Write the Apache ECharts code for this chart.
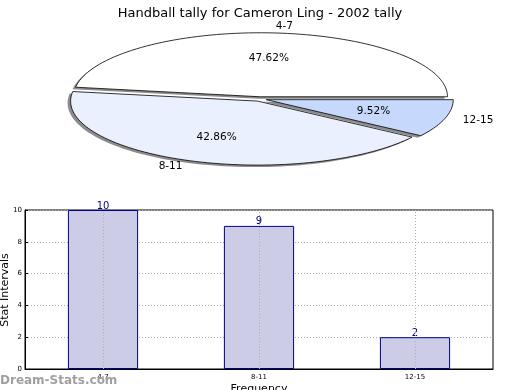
<!DOCTYPE html>
<html><head><meta charset="utf-8">
<script src="https://cdn.jsdelivr.net/npm/echarts@6/dist/echarts.min.js"></script>
<style>html,body{margin:0;padding:0;background:#fff}#c{width:520px;height:390px}</style>
</head><body><div id="c"></div>
<script>
const titleText = 'Handball tally for Cameron Ling - 2002 tally';
const categories = ['4-7', '8-11', '12-15'];
const values = [10, 9, 2];
const pieColors = ['#ffffff', '#eaf0fd', '#c6d9fd'];
const yTicks = [0, 2, 4, 6, 8, 10];
const yAxisName = 'Stat Intervals';
const xAxisName = 'Frequency';

const FONT = 'DejaVu Sans';
const total = values.reduce((a, b) => a + b, 0);
const PIE = { cx: 260, cy: 99, rx: 187, ry: 64, explode: 0.035, shadowDx: -3, shadowDy: 2 };

function slicePts(startDeg, endDeg, ox, oy) {
  const pts = [[PIE.cx + ox, PIE.cy + oy]];
  const n = Math.max(8, Math.ceil((endDeg - startDeg) / 2));
  for (let i = 0; i <= n; i++) {
    const a = (startDeg + (endDeg - startDeg) * i / n) * Math.PI / 180;
    pts.push([PIE.cx + ox + PIE.rx * Math.cos(a), PIE.cy + oy - PIE.ry * Math.sin(a)]);
  }
  return pts;
}

function renderSlice(params, api) {
  const idx = params.dataIndex;
  let before = 0;
  for (let i = 0; i < idx; i++) before += values[i];
  const v = api.value(1);
  const start = before / total * 360;
  const end = (before + v) / total * 360;
  const mid = (start + end) / 2 * Math.PI / 180;
  const cm = Math.cos(mid), sm = Math.sin(mid);
  const ox = PIE.explode * PIE.rx * cm, oy = -PIE.explode * PIE.ry * sm;
  const pts = slicePts(start, end, ox, oy);
  const shadowPts = pts.map(p => [p[0] + PIE.shadowDx, p[1] + PIE.shadowDy]);
  const lx = PIE.cx + ox + 1.1 * PIE.rx * cm, ly = PIE.cy + oy - 1.1 * PIE.ry * sm;
  const px = PIE.cx + ox + 0.6 * PIE.rx * cm, py = PIE.cy + oy - 0.6 * PIE.ry * sm;
  return {
    type: 'group',
    children: [
      { type: 'polygon', z2: 1, shape: { points: shadowPts }, style: { fill: '#8c8c8c', stroke: null } },
      { type: 'polygon', z2: 10, shape: { points: pts }, style: { fill: pieColors[idx], stroke: '#000', lineWidth: 0.8 } },
      { type: 'text', z2: 20, x: lx, y: ly, style: { text: categories[idx], fill: '#000', font: '10.5px "' + FONT + '"', align: cm < 0 ? 'right' : 'left', verticalAlign: 'middle' } },
      { type: 'text', z2: 20, x: px, y: py, style: { text: (v / total * 100).toFixed(2) + '%', fill: '#000', font: '10.5px "' + FONT + '"', align: 'center', verticalAlign: 'middle' } }
    ]
  };
}

const chart = echarts.init(document.getElementById('c'), null, { renderer: 'canvas' });
chart.setOption({
  animation: false,
  backgroundColor: '#fff',
  title: { text: titleText, left: 'center', top: 2, textStyle: { fontFamily: FONT, fontSize: 13, fontWeight: 'normal', color: '#000' } },
  graphic: [
    { type: 'text', left: 0, top: 375, z: 100, style: { text: 'Dream-Stats.com', fill: '#a0a0a0', font: 'bold 12px "' + FONT + '"' } },
    { type: 'text', x: 5, y: 290, rotation: Math.PI / 2, z: 100, style: { text: yAxisName, fill: '#000', font: '11px "' + FONT + '"', align: 'center', verticalAlign: 'middle' } }
  ],
  grid: { left: 25, right: 27, top: 210, bottom: 21, containLabel: false, outerBoundsMode: 'none', show: true, borderColor: '#000', borderWidth: 1, backgroundColor: 'transparent' },
  xAxis: {
    type: 'category', data: categories,
    name: xAxisName, nameLocation: 'middle', nameGap: 15,
    nameTextStyle: { fontFamily: FONT, fontSize: 11, color: '#000' },
    axisLine: { lineStyle: { color: '#000', width: 1 } },
    axisTick: { show: false },
    axisLabel: { fontFamily: FONT, fontSize: 7, color: '#000', margin: 5 },
    splitLine: { show: false }
  },
  yAxis: {
    type: 'value', min: 0, max: 10, interval: 2,
    axisLine: { show: true, lineStyle: { color: '#000', width: 1 } },
    axisTick: { show: true, inside: true, length: 3, lineStyle: { color: '#000' } },
    axisLabel: { fontFamily: FONT, fontSize: 7, color: '#000', margin: 3 },
    splitLine: { show: true, lineStyle: { color: '#b0b0b0', type: [1, 2], width: 1 } }
  },
  series: [
    {
      type: 'custom', coordinateSystem: 'none', renderItem: renderSlice,
      data: categories.map((c, i) => [i, values[i]]), silent: true
    },
    {
      type: 'bar', data: values, barWidth: '45%',
      itemStyle: { color: '#ccccE6', borderColor: '#00008b', borderWidth: 1 },
      label: { show: true, position: 'top', distance: -1, color: '#00008b', fontFamily: FONT, fontSize: 10 },
      markLine: {
        silent: true, symbol: 'none', label: { show: false },
        lineStyle: { color: '#b0b0b0', type: [1, 2], width: 1 },
        data: categories.map(c => ({ xAxis: c }))
      }
    }
  ]
});
</script></body></html>
